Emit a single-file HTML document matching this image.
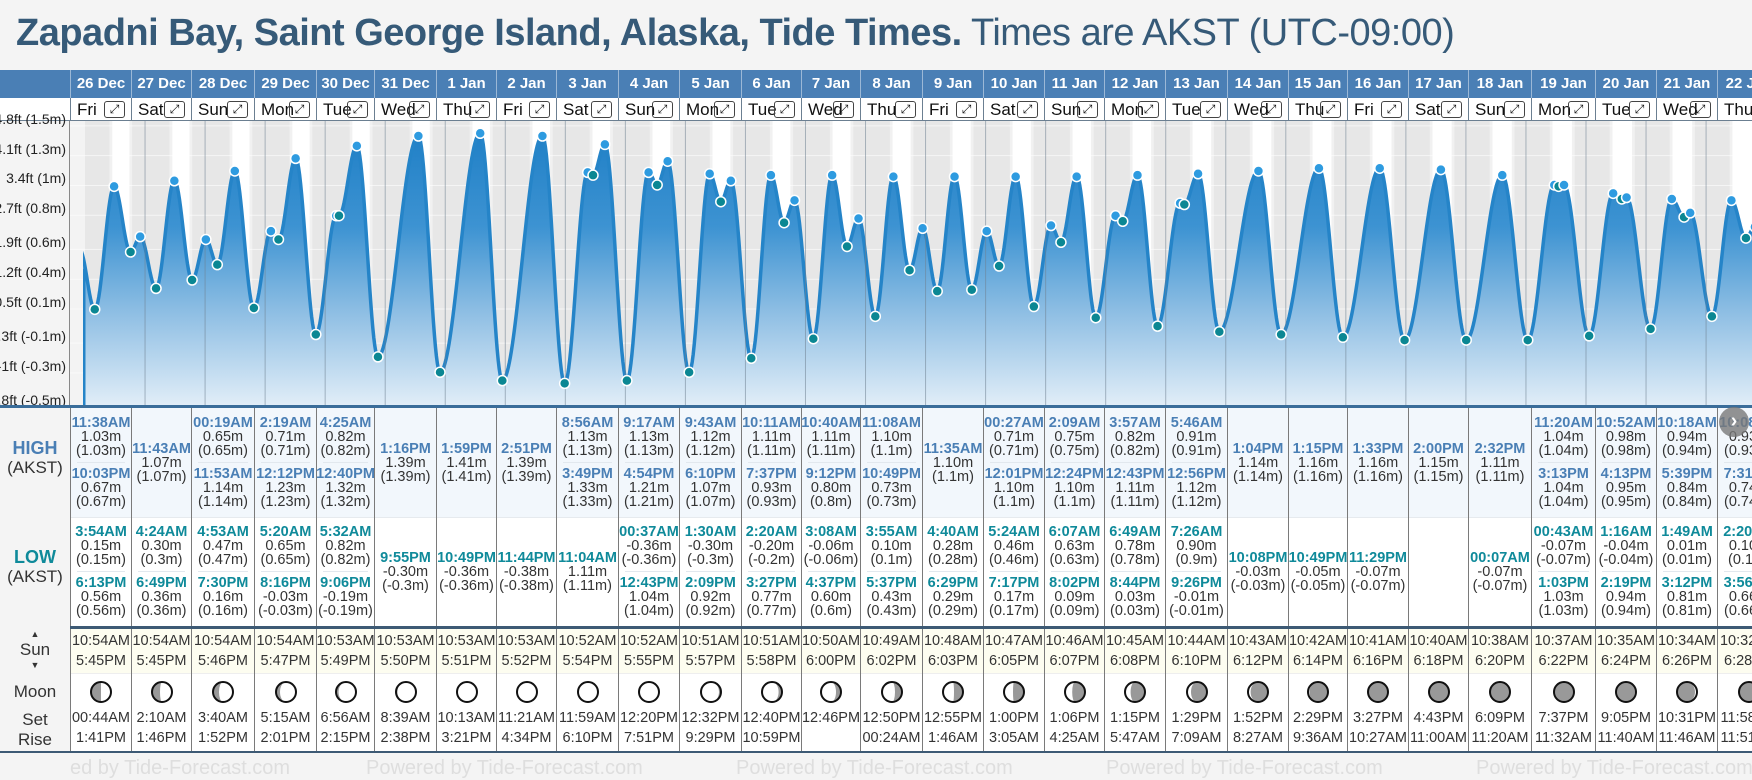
<!DOCTYPE html>
<html><head><meta charset="utf-8">
<style>
*{box-sizing:border-box;margin:0;padding:0}
body{width:1752px;height:780px;overflow:hidden;background:#f4f4f4;font-family:"Liberation Sans",Arial,sans-serif;position:relative}
.abs{position:absolute}
#title{left:16px;top:12px;font-size:38px;color:#365a78;white-space:nowrap;letter-spacing:-0.5px}
#title b{font-weight:bold}
.hd{position:absolute;top:70px;height:28px;background:#4a7fb5;color:#fff;font-weight:bold;font-size:15px;text-align:center;line-height:28px;border-left:1px solid #9bb8d6;white-space:nowrap;overflow:hidden}
.dy{position:absolute;top:98px;height:23px;background:#fff;font-size:17px;line-height:23px;border-left:1px solid #6b7f91;border-bottom:1px solid #6b7f91;padding-left:6px;white-space:nowrap;overflow:hidden;color:#111}
.ex{position:absolute;top:3px;width:21px;height:17px;border:1px solid #444;border-radius:3px;font-size:12px;line-height:15px;text-align:center;color:#111}
.cell{position:absolute;display:flex;flex-direction:column;justify-content:center;align-items:center;border-left:1px solid #7a7a7a;text-align:center;white-space:nowrap}
.ent{font-size:14.5px;line-height:14px;color:#333}
.ent .t{font-weight:bold}
.sep{width:80%;height:1px;background:#e2e8ee;margin:4px 0}
.lbl{position:absolute;left:0;width:70px;text-align:center;font-size:17px;color:#333}
.foot{position:absolute;top:757px;font-size:20px;color:#dedede;white-space:nowrap}
</style></head><body>
<div id="title" class="abs"><b>Zapadni Bay, Saint George Island, Alaska, Tide Times.</b> Times are AKST (UTC-09:00)</div>
<div class="hd" style="left:0;width:70px;border-left:none"></div>
<div class="abs" style="left:0;top:98px;width:70px;height:23px;background:#fff;border-bottom:1px solid #6b7f91"></div>
<div class="abs" style="left:0;top:121px;width:70px;height:286px;background:#f4f4f4;border-right:1px solid #888" id="yaxis"></div>
<svg id="chart" class="abs" style="left:0;top:121px" width="1752" height="286" viewBox="0 121 1752 286">
<defs>
<linearGradient id="fillg" gradientUnits="userSpaceOnUse" x1="0" y1="130" x2="0" y2="407">
<stop offset="0" stop-color="#1f7fc6"/><stop offset="0.35" stop-color="#3d93d2"/><stop offset="0.65" stop-color="#8cbde3"/><stop offset="1" stop-color="#e2eef8"/>
</linearGradient>
<clipPath id="plotclip"><rect x="83" y="121" width="1669" height="286"/></clipPath>
</defs>
<g id="bands"></g><g id="grid"></g><g id="area" clip-path="url(#plotclip)"></g><g id="vlines"></g><g id="marks"></g>
</svg>
<div class="abs" style="left:0;top:405px;width:1752px;height:3px;background:#3a6d9a"></div>
<div class="abs" style="left:0;top:408px;width:1752px;height:109px;background:#f2f7fc"></div>
<div class="abs" style="left:0;top:517px;width:1752px;height:109px;background:#fff;border-top:1px solid #e6eaee"></div>
<div class="abs" style="left:0;top:626px;width:1752px;height:3px;background:#3d5a75"></div>
<div class="abs" style="left:0;top:629px;width:1752px;height:44px;background:#fdfdf0"></div>
<div class="abs" style="left:0;top:673px;width:1752px;height:78px;background:#fff;border-top:1px solid #eee"></div>
<div class="abs" style="left:0;top:751px;width:1752px;height:2px;background:#3d5a75"></div>
<div class="abs" style="left:0;top:408px;width:70px;height:343px;background:#f4f4f4"></div>
<div class="lbl" style="top:438px;font-weight:bold;color:#4a7fb5;font-size:18px">HIGH</div>
<div class="lbl" style="top:458px">(AKST)</div>
<div class="lbl" style="top:547px;font-weight:bold;color:#0f8a9a;font-size:18px">LOW</div>
<div class="lbl" style="top:567px">(AKST)</div>
<div class="lbl" style="top:629px;font-size:9px;line-height:10px">▲</div>
<div class="lbl" style="top:640px">Sun</div>
<div class="lbl" style="top:660px;font-size:9px;line-height:10px">▼</div>
<div class="lbl" style="top:682px">Moon</div>
<div class="lbl" style="top:710px">Set</div>
<div class="lbl" style="top:730px">Rise</div>
<div class="foot" style="left:70px">ed by Tide-Forecast.com</div>
<div class="foot" style="left:366px">Powered by Tide-Forecast.com</div>
<div class="foot" style="left:736px">Powered by Tide-Forecast.com</div>
<div class="foot" style="left:1106px">Powered by Tide-Forecast.com</div>
<div class="foot" style="left:1476px">Powered by Tide-Forecast.com</div>
<div id="cells"></div>
<div class="abs" style="left:1719px;top:407px;width:30px;height:30px;border-radius:50%;background:rgba(120,120,120,0.8);color:#fff;font-size:20px;line-height:28px;text-align:center;font-weight:bold">›</div>
<script>
const dates=["26 Dec","27 Dec","28 Dec","29 Dec","30 Dec","31 Dec","1 Jan","2 Jan","3 Jan","4 Jan","5 Jan","6 Jan","7 Jan","8 Jan","9 Jan","10 Jan","11 Jan","12 Jan","13 Jan","14 Jan","15 Jan","16 Jan","17 Jan","18 Jan","19 Jan","20 Jan","21 Jan","22 Jan"];
const dayNames=["Fri","Sat","Sun","Mon","Tue","Wed","Thu"];
const tideDay=[0,0,0,0, 1,1,1, 2,2,2,2, 3,3,3,3, 4,4,4,4, 5,5, 6,6, 7,7, 8,8,8, 9,9,9,9, 10,10,10,10, 11,11,11,11, 12,12,12,12, 13,13,13,13, 14,14,14, 15,15,15,15, 16,16,16,16, 17,17,17,17, 18,18,18,18, 19,19, 20,20, 21,21, 22, 23,23, 24,24,24,24, 25,25,25,25, 26,26,26,26, 27,27,27,27];
const tideTime=["3:54","11:38","18:13","22:03", "4:24","11:43","18:49", "0:19","4:53","11:53","19:30", "2:19","5:20","12:12","20:16", "4:25","5:32","12:40","21:06", "13:16","21:55", "13:59","22:49", "14:51","23:44", "8:56","11:04","15:49", "0:37","9:17","12:43","16:54", "1:30","9:43","14:09","18:10", "2:20","10:11","15:27","19:37", "3:08","10:40","16:37","21:12", "3:55","11:08","17:37","22:49", "4:40","11:35","18:29", "0:27","5:24","12:01","19:17", "2:09","6:07","12:24","20:02", "3:57","6:49","12:43","20:44", "5:46","7:26","12:56","21:26", "13:04","22:08", "13:15","22:49", "13:33","23:29", "14:00", "0:07","14:32", "0:43","11:20","13:03","15:13", "1:16","10:52","14:19","16:13", "1:49","10:18","15:12","17:39", "2:20","10:08","15:56","19:31"];
const tideHeight=[0.15,1.03,0.56,0.67, 0.30,1.07,0.36, 0.65,0.47,1.14,0.16, 0.71,0.65,1.23,-0.03, 0.82,0.82,1.32,-0.19, 1.39,-0.30, 1.41,-0.36, 1.39,-0.38, 1.13,1.11,1.33, -0.36,1.13,1.04,1.21, -0.30,1.12,0.92,1.07, -0.20,1.11,0.77,0.93, -0.06,1.11,0.60,0.80, 0.10,1.10,0.43,0.73, 0.28,1.10,0.29, 0.71,0.46,1.10,0.17, 0.75,0.63,1.10,0.09, 0.82,0.78,1.11,0.03, 0.91,0.90,1.12,-0.01, 1.14,-0.03, 1.16,-0.05, 1.16,-0.07, 1.15, -0.07,1.11, -0.07,1.04,1.03,1.04, -0.04,0.98,0.94,0.95, 0.01,0.94,0.81,0.84, 0.10,0.93,0.66,0.74];
const tideType="LHLH LHL HLHL HLHL HLHL HL HL HL HLH LHLH LHLH LHLH LHLH LHLH LHL HLHL HLHL HLHL HLHL HL HL HL H LH LHLH LHLH LHLH LHLH".replace(/ /g,"").split("");
const sunrise=["10:54AM","10:54AM","10:54AM","10:54AM","10:53AM","10:53AM","10:53AM","10:53AM","10:52AM","10:52AM","10:51AM","10:51AM","10:50AM","10:49AM","10:48AM","10:47AM","10:46AM","10:45AM","10:44AM","10:43AM","10:42AM","10:41AM","10:40AM","10:38AM","10:37AM","10:35AM","10:34AM","10:32AM"];
const sunset=["5:45PM","5:45PM","5:46PM","5:47PM","5:49PM","5:50PM","5:51PM","5:52PM","5:54PM","5:55PM","5:57PM","5:58PM","6:00PM","6:02PM","6:03PM","6:05PM","6:07PM","6:08PM","6:10PM","6:12PM","6:14PM","6:16PM","6:18PM","6:20PM","6:22PM","6:24PM","6:26PM","6:28PM"];
const moonA=["00:44AM","2:10AM","3:40AM","5:15AM","6:56AM","8:39AM","10:13AM","11:21AM","11:59AM","12:20PM","12:32PM","12:40PM","12:46PM","12:50PM","12:55PM","1:00PM","1:06PM","1:15PM","1:29PM","1:52PM","2:29PM","3:27PM","4:43PM","6:09PM","7:37PM","9:05PM","10:31PM","11:58PM"];
const moonB=["1:41PM","1:46PM","1:52PM","2:01PM","2:15PM","2:38PM","3:21PM","4:34PM","6:10PM","7:51PM","9:29PM","10:59PM","","00:24AM","1:46AM","3:05AM","4:25AM","5:47AM","7:09AM","8:27AM","9:36AM","10:27AM","11:00AM","11:20AM","11:32AM","11:40AM","11:46AM","11:51AM"];
const moonFrac=[0.5,0.6,0.7,0.8,0.87,0.93,0.97,1.0,0.99,0.96,0.9,0.83,0.75,0.65,0.55,0.45,0.36,0.28,0.2,0.13,0.07,0.03,0.01,0.0,0.02,0.05,0.1,0.17];
const moonWax=[1,1,1,1,1,1,1,1,0,0,0,0,0,0,0,0,0,0,0,0,0,0,0,0,1,1,1,1];
const yTicksFt=[-1.8,-1,-0.3,0.5,1.2,1.9,2.7,3.4,4.1,4.8];
const yTicksM=["-0.5m","-0.3m","-0.1m","0.1m","0.4m","0.6m","0.8m","1m","1.3m","1.5m"];

const colB=[70,131,191,254,316,374,436,496,556,618,679,741,801,860,922,983,1044,1104,1165,1227,1288,1347,1408,1468,1531,1595,1656,1717,1780];
const NS="http://www.w3.org/2000/svg";
function parseHM(s){const p=s.split(":");return +p[0]+ +p[1]/60;}
function parse12(s){const m=s.match(/(\d+):(\d+)(AM|PM)/);let h=+m[1]%12;if(m[3]=="PM")h+=12;return h+ +m[2]/60;}
function xScale(day,h){return 85+60.04*(day+h/24);}
function yScale(m){return 407-(m*3.2808+1.8)*42.6;}
function yFt(ft){return 407-(ft+1.8)*42.6;}
function svgEl(tag,attrs,parent){const e=document.createElementNS(NS,tag);for(const k in attrs)e.setAttribute(k,attrs[k]);parent.appendChild(e);return e;}

const yaxis=document.getElementById('yaxis');
yTicksFt.forEach((ft,i)=>{
  const d=document.createElement('div');
  
  
  d.style.cssText='position:absolute;right:3px;font-size:14px;color:#222;white-space:nowrap;top:'+(yFt(ft)-121-15)+'px';
  d.textContent=ft+'ft ('+yTicksM[i]+')';
  yaxis.appendChild(d);
});
const bands=document.getElementById('bands');
const bg=svgEl('rect',{x:70,y:121,width:1682,height:286,fill:'#e7e7e7'},bands);


svgEl('rect',{x:70,y:121,width:15,height:286,fill:'#f3f3f3'},bands);
for(let d=0;d<28;d++){
  const sr=parse12(sunrise[d]),ss=parse12(sunset[d]);
  const tw=svgEl('rect',{x:xScale(d,sr-1.1),y:121,width:xScale(d,ss+1.1)-xScale(d,sr-1.1),height:286,fill:'#f1f1f1'},bands);
  
  
  const dl=svgEl('rect',{x:xScale(d,sr),y:121,width:xScale(d,ss)-xScale(d,sr),height:286,fill:'#ffffff'},bands);
  
  
}
const grid=document.getElementById('grid');
yTicksFt.forEach(ft=>{
  const l=svgEl('line',{x1:70,x2:1752,y1:yFt(ft),y2:yFt(ft),stroke:'#ffffff','stroke-opacity':0.6,'stroke-width':1},grid);
  
  
});
const pts=[];
pts.push({t:-2.2,h:0.58});
for(let i=0;i<tideTime.length;i++)pts.push({t:tideDay[i]*24+parseHM(tideTime[i]),h:tideHeight[i],type:tideType[i]});
pts.push({t:27*24+25.5,h:0.2});
let path='';
for(let i=0;i<pts.length-1;i++){
  const a=pts[i],b=pts[i+1];
  const x0=xScale(0,a.t),x1=xScale(0,b.t);
  for(let x=x0;x<x1;x+=1){
    const f=(x-x0)/(x1-x0);const h=a.h+(b.h-a.h)*(1-Math.cos(Math.PI*f))/2;
    path+=(path?'L':'M')+x.toFixed(1)+','+yScale(h).toFixed(1);
  }
}
const area=document.getElementById('area');
const ap=svgEl('path',{d:path+'L1800,407L40,407Z',fill:'url(#fillg)'},area);


const lp=svgEl('path',{d:path,fill:'none',stroke:'#2584c8','stroke-width':3.5},area);


const el0=svgEl('line',{x1:84,x2:84,y1:yScale(0.44),y2:407,stroke:'#2584c8','stroke-width':3},area);


const vl=document.getElementById('vlines');
for(let d=1;d<28;d++){
  const l=svgEl('line',{x1:xScale(d,0),x2:xScale(d,0),y1:121,y2:407,stroke:'#6f8192','stroke-opacity':0.55,'stroke-width':1},vl);
  
  
}
const marks=document.getElementById('marks');
for(let i=0;i<tideTime.length;i++){
  const c=svgEl('circle',{cx:xScale(tideDay[i],parseHM(tideTime[i])),cy:yScale(tideHeight[i]),r:5,fill:tideType[i]=='H'?'#2e9be0':'#0b8793',stroke:'#fff','stroke-width':1.5},marks);
  
  
}
function fmtTime(s){let[h,m]=s.split(':');h=+h;if(h==0)return '00:'+m+'AM';const ap=h>=12?'PM':'AM';return (h%12||12)+':'+m+ap;}
function fmtVal(v){return v.toFixed(2)+'m';}
function fmtVal2(v){return '('+parseFloat(v.toFixed(2))+'m)';}
const cells=document.getElementById('cells');
for(let d=0;d<28;d++){
  const L=colB[d],W=colB[d+1]-colB[d];
  const hd=document.createElement('div');hd.className='hd';
  
  
  hd.style.left=L+'px';hd.style.width=W+'px';hd.textContent=dates[d];cells.appendChild(hd);
  const dy=document.createElement('div');dy.className='dy';
  
  
  dy.style.left=L+'px';dy.style.width=W+'px';dy.textContent=dayNames[d%7];cells.appendChild(dy);
  const ex=document.createElement('div');ex.className='ex';
  
  
  ex.style.left=(W-28)+'px';ex.textContent='⤢';dy.appendChild(ex);
  ['H','L'].forEach(tp=>{
    const top=tp=='H'?408:517;const col=tp=='H'?'#4a7fb5':'#0f8a9a';
    const c=document.createElement('div');c.className='cell';
    
    
    c.style.cssText='left:'+L+'px;width:'+W+'px;top:'+top+'px;height:109px';
    const idx=[];for(let i=0;i<tideTime.length;i++)if(tideDay[i]==d&&tideType[i]==tp)idx.push(i);
    idx.forEach((i,k)=>{
      if(k>0){const s=document.createElement('div');s.className='sep';c.appendChild(s);}
      const e=document.createElement('div');e.className='ent';
      e.innerHTML='<div class="t" style="color:'+col+'">'+fmtTime(tideTime[i])+'</div><div>'+fmtVal(tideHeight[i])+'</div><div>'+fmtVal2(tideHeight[i])+'</div>';
      c.appendChild(e);
    });
    cells.appendChild(c);
  });
  const sc=document.createElement('div');sc.className='cell';
  
  
  sc.style.cssText='left:'+L+'px;width:'+W+'px;top:629px;height:44px;font-size:14.5px;color:#333;line-height:20px';
  sc.innerHTML='<div>'+sunrise[d]+'</div><div>'+sunset[d]+'</div>';cells.appendChild(sc);
  const mc=document.createElement('div');mc.className='cell';
  
  
  mc.style.cssText='left:'+L+'px;width:'+W+'px;top:673px;height:78px;justify-content:flex-start;font-size:14.5px;color:#333;line-height:20px';
  const f=moonFrac[d],r=10,rx=Math.abs(1-2*f)*r;
  let lit;
  if(moonWax[d]) lit='M0,-'+r+'A'+r+','+r+' 0 0 1 0,'+r+'A'+rx+','+r+' 0 0 '+(f>0.5?1:0)+' 0,-'+r+'Z';
  else lit='M0,-'+r+'A'+r+','+r+' 0 0 0 0,'+r+'A'+rx+','+r+' 0 0 '+(f>0.5?0:1)+' 0,-'+r+'Z';
  mc.innerHTML='<svg width="28" height="28" viewBox="-14 -14 28 28" style="margin-top:5px"><circle r="'+r+'" fill="#999"/>'+(f>0.01?'<path d="'+lit+'" fill="#fff"/>':'')+'<circle r="'+r+'" fill="none" stroke="#111" stroke-width="2"/></svg><div style="margin-top:2px">'+moonA[d]+'</div><div>'+(moonB[d]||'&nbsp;')+'</div>';
  cells.appendChild(mc);
}
</script>
</body></html>
